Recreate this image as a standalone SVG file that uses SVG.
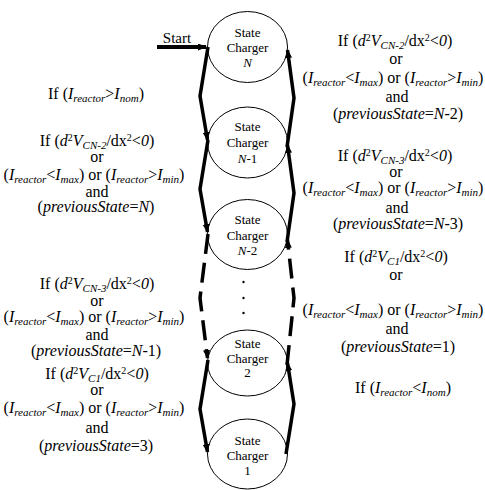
<svg xmlns="http://www.w3.org/2000/svg" width="485" height="490" viewBox="0 0 485 490">
<defs>
<style>
text{font-family:'Liberation Serif','DejaVu Serif','Times New Roman',serif}
.t{font-size:16px;fill:#000;text-anchor:middle}
.i{font-style:italic}
.s{font-size:11px;font-style:italic}
.p{font-size:10px}
.n{font-size:13px;fill:#000;text-anchor:middle}
.c{fill:#fff;stroke:#000;stroke-width:1}
.e{fill:none;stroke:#000;stroke-width:3.5;stroke-linejoin:miter}
.d{stroke-dasharray:20 9}
</style>
<marker id="ah" markerUnits="userSpaceOnUse" markerWidth="10" markerHeight="8" refX="8" refY="3.5" orient="auto">
<path d="M0,0 L9,3.5 L0,7 z" fill="#000"/>
</marker>
</defs>
<rect width="485" height="490" fill="#fff"/>

<g id="nodeN" font-family="Liberation Serif, DejaVu Serif, serif">
<ellipse class="c" cx="247.5" cy="47" rx="40" ry="35.5"/>
<text class="n" x="247.5" y="37">State</text>
<text class="n" x="247.5" y="51.5">Charger</text>
<text class="n i" x="247.5" y="66.5">N</text>
</g>
<g id="nodeN1" font-family="Liberation Serif, DejaVu Serif, serif">
<ellipse class="c" cx="247.5" cy="142.5" rx="40" ry="35.5"/>
<text class="n" x="247.5" y="131">State</text>
<text class="n" x="247.5" y="147">Charger</text>
<text class="n" x="247.5" y="163"><tspan class="i">N</tspan>-1</text>
</g>
<g id="nodeN2" font-family="Liberation Serif, DejaVu Serif, serif">
<ellipse class="c" cx="247.5" cy="234.5" rx="40" ry="35"/>
<text class="n" x="247.5" y="224">State</text>
<text class="n" x="247.5" y="240">Charger</text>
<text class="n" x="247.5" y="255"><tspan class="i">N</tspan>-2</text>
<circle cx="243.5" cy="282" r="1.2" fill="#000"/>
<circle cx="243.5" cy="298" r="1.2" fill="#000"/>
<circle cx="243.5" cy="313" r="1.2" fill="#000"/>
</g>
<g id="node2" font-family="Liberation Serif, DejaVu Serif, serif">
<ellipse class="c" cx="247.5" cy="363" rx="40" ry="33"/>
<text class="n" x="247.5" y="348">State</text>
<text class="n" x="247.5" y="363">Charger</text>
<text class="n" x="247.5" y="377">2</text>
</g>
<g id="node1" font-family="Liberation Serif, DejaVu Serif, serif">
<ellipse class="c" cx="247.5" cy="454" rx="40" ry="35"/>
<text class="n" x="247.5" y="444.5">State</text>
<text class="n" x="247.5" y="459.5">Charger</text>
<text class="n" x="247.5" y="474.5">1</text>
</g>

<g id="connectors" font-family="Liberation Serif, DejaVu Serif, serif">
<text class="t" x="177" y="43" style="font-size:15px">Start</text>
<path class="e" d="M157,47 L206,47" marker-end="url(#ah)" style="stroke-width:4"/>
<path class="e" d="M208,47 L200,96 L207.5,140" marker-end="url(#ah)"/>
<path class="e" d="M208,140 L200,189 L207.5,232" marker-end="url(#ah)"/>
<path class="e d" d="M208,234 L200,298 L207.5,358" marker-end="url(#ah)"/>
<path class="e" d="M208,360 L200,409 L207.5,452" marker-end="url(#ah)"/>
<path class="e" d="M286,454 L294,404 L287.5,363" marker-end="url(#ah)"/>
<path class="e d" d="M287,365 L294,298 L287.5,240" marker-end="url(#ah)"/>
<path class="e" d="M287,242 L294,193 L287.5,145" marker-end="url(#ah)"/>
<path class="e" d="M287,147 L294,98 L287.5,50" marker-end="url(#ah)"/>
</g>

<g id="labels-left" font-family="Liberation Serif, DejaVu Serif, serif">
<text class="t" x="96" y="98.5">If (<tspan class="i">I</tspan><tspan class="s" dy="3">reactor</tspan><tspan dy="-3">&gt;</tspan><tspan class="i">I</tspan><tspan class="s" dy="3">nom</tspan><tspan dy="-3">)</tspan></text>

<text class="t" x="97" y="146">If (<tspan class="i">d</tspan><tspan class="p" dy="-5">2</tspan><tspan class="i" dy="5">V</tspan><tspan class="s" dy="3">CN-2</tspan><tspan dy="-3">/dx</tspan><tspan class="p" dy="-5">2</tspan><tspan dy="5">&lt;</tspan><tspan class="i">0</tspan>)</text>
<text class="t" x="97" y="161.5">or</text>
<text class="t" x="94" y="179.5">(<tspan class="i">I</tspan><tspan class="s" dy="3">reactor</tspan><tspan dy="-3">&lt;</tspan><tspan class="i">I</tspan><tspan class="s" dy="3">max</tspan><tspan dy="-3">) or (</tspan><tspan class="i">I</tspan><tspan class="s" dy="3">reactor</tspan><tspan dy="-3">&gt;</tspan><tspan class="i">I</tspan><tspan class="s" dy="3">min</tspan><tspan dy="-3">)</tspan></text>
<text class="t" x="97" y="196.5">and</text>
<text class="t" x="96" y="212">(<tspan class="i">previousState</tspan>=<tspan class="i">N</tspan>)</text>

<text class="t" x="97" y="289">If (<tspan class="i">d</tspan><tspan class="p" dy="-5">2</tspan><tspan class="i" dy="5">V</tspan><tspan class="s" dy="3">CN-3</tspan><tspan dy="-3">/dx</tspan><tspan class="p" dy="-5">2</tspan><tspan dy="5">&lt;</tspan><tspan class="i">0</tspan>)</text>
<text class="t" x="97" y="306">or</text>
<text class="t" x="94" y="322">(<tspan class="i">I</tspan><tspan class="s" dy="3">reactor</tspan><tspan dy="-3">&lt;</tspan><tspan class="i">I</tspan><tspan class="s" dy="3">max</tspan><tspan dy="-3">) or (</tspan><tspan class="i">I</tspan><tspan class="s" dy="3">reactor</tspan><tspan dy="-3">&gt;</tspan><tspan class="i">I</tspan><tspan class="s" dy="3">min</tspan><tspan dy="-3">)</tspan></text>
<text class="t" x="97" y="340">and</text>
<text class="t" x="96" y="355.5">(<tspan class="i">previousState</tspan>=<tspan class="i">N</tspan>-1)</text>

<text class="t" x="97" y="379">If (<tspan class="i">d</tspan><tspan class="p" dy="-5">2</tspan><tspan class="i" dy="5">V</tspan><tspan class="s" dy="3">C1</tspan><tspan dy="-3">/dx</tspan><tspan class="p" dy="-5">2</tspan><tspan dy="5">&lt;</tspan><tspan class="i">0</tspan>)</text>
<text class="t" x="97" y="395">or</text>
<text class="t" x="94" y="413">(<tspan class="i">I</tspan><tspan class="s" dy="3">reactor</tspan><tspan dy="-3">&lt;</tspan><tspan class="i">I</tspan><tspan class="s" dy="3">max</tspan><tspan dy="-3">) or (</tspan><tspan class="i">I</tspan><tspan class="s" dy="3">reactor</tspan><tspan dy="-3">&gt;</tspan><tspan class="i">I</tspan><tspan class="s" dy="3">min</tspan><tspan dy="-3">)</tspan></text>
<text class="t" x="97" y="433">and</text>
<text class="t" x="96" y="451">(<tspan class="i">previousState</tspan>=3)</text>
</g>

<g id="labels-right" font-family="Liberation Serif, DejaVu Serif, serif">
<text class="t" x="395" y="46">If (<tspan class="i">d</tspan><tspan class="p" dy="-5">2</tspan><tspan class="i" dy="5">V</tspan><tspan class="s" dy="3">CN-2</tspan><tspan dy="-3">/dx</tspan><tspan class="p" dy="-5">2</tspan><tspan dy="5">&lt;</tspan><tspan class="i">0</tspan>)</text>
<text class="t" x="396" y="63.5">or</text>
<text class="t" x="393" y="83">(<tspan class="i">I</tspan><tspan class="s" dy="3">reactor</tspan><tspan dy="-3">&lt;</tspan><tspan class="i">I</tspan><tspan class="s" dy="3">max</tspan><tspan dy="-3">) or (</tspan><tspan class="i">I</tspan><tspan class="s" dy="3">reactor</tspan><tspan dy="-3">&gt;</tspan><tspan class="i">I</tspan><tspan class="s" dy="3">min</tspan><tspan dy="-3">)</tspan></text>
<text class="t" x="397" y="101.5">and</text>
<text class="t" x="398" y="119">(<tspan class="i">previousState</tspan>=<tspan class="i">N</tspan>-2)</text>

<text class="t" x="395" y="161">If (<tspan class="i">d</tspan><tspan class="p" dy="-5">2</tspan><tspan class="i" dy="5">V</tspan><tspan class="s" dy="3">CN-3</tspan><tspan dy="-3">/dx</tspan><tspan class="p" dy="-5">2</tspan><tspan dy="5">&lt;</tspan><tspan class="i">0</tspan>)</text>
<text class="t" x="396" y="176.5">or</text>
<text class="t" x="393" y="193">(<tspan class="i">I</tspan><tspan class="s" dy="3">reactor</tspan><tspan dy="-3">&lt;</tspan><tspan class="i">I</tspan><tspan class="s" dy="3">max</tspan><tspan dy="-3">) or (</tspan><tspan class="i">I</tspan><tspan class="s" dy="3">reactor</tspan><tspan dy="-3">&gt;</tspan><tspan class="i">I</tspan><tspan class="s" dy="3">min</tspan><tspan dy="-3">)</tspan></text>
<text class="t" x="397" y="213">and</text>
<text class="t" x="398" y="229">(<tspan class="i">previousState</tspan>=<tspan class="i">N</tspan>-3)</text>

<text class="t" x="396" y="262">If (<tspan class="i">d</tspan><tspan class="p" dy="-5">2</tspan><tspan class="i" dy="5">V</tspan><tspan class="s" dy="3">C1</tspan><tspan dy="-3">/dx</tspan><tspan class="p" dy="-5">2</tspan><tspan dy="5">&lt;</tspan><tspan class="i">0</tspan>)</text>
<text class="t" x="396" y="280">or</text>
<text class="t" x="393" y="314.5">(<tspan class="i">I</tspan><tspan class="s" dy="3">reactor</tspan><tspan dy="-3">&lt;</tspan><tspan class="i">I</tspan><tspan class="s" dy="3">max</tspan><tspan dy="-3">) or (</tspan><tspan class="i">I</tspan><tspan class="s" dy="3">reactor</tspan><tspan dy="-3">&gt;</tspan><tspan class="i">I</tspan><tspan class="s" dy="3">min</tspan><tspan dy="-3">)</tspan></text>
<text class="t" x="397" y="334">and</text>
<text class="t" x="398" y="352">(<tspan class="i">previousState</tspan>=1)</text>

<text class="t" x="403" y="393">If (<tspan class="i">I</tspan><tspan class="s" dy="3">reactor</tspan><tspan dy="-3">&lt;</tspan><tspan class="i">I</tspan><tspan class="s" dy="3">nom</tspan><tspan dy="-3">)</tspan></text>
</g>
</svg>
